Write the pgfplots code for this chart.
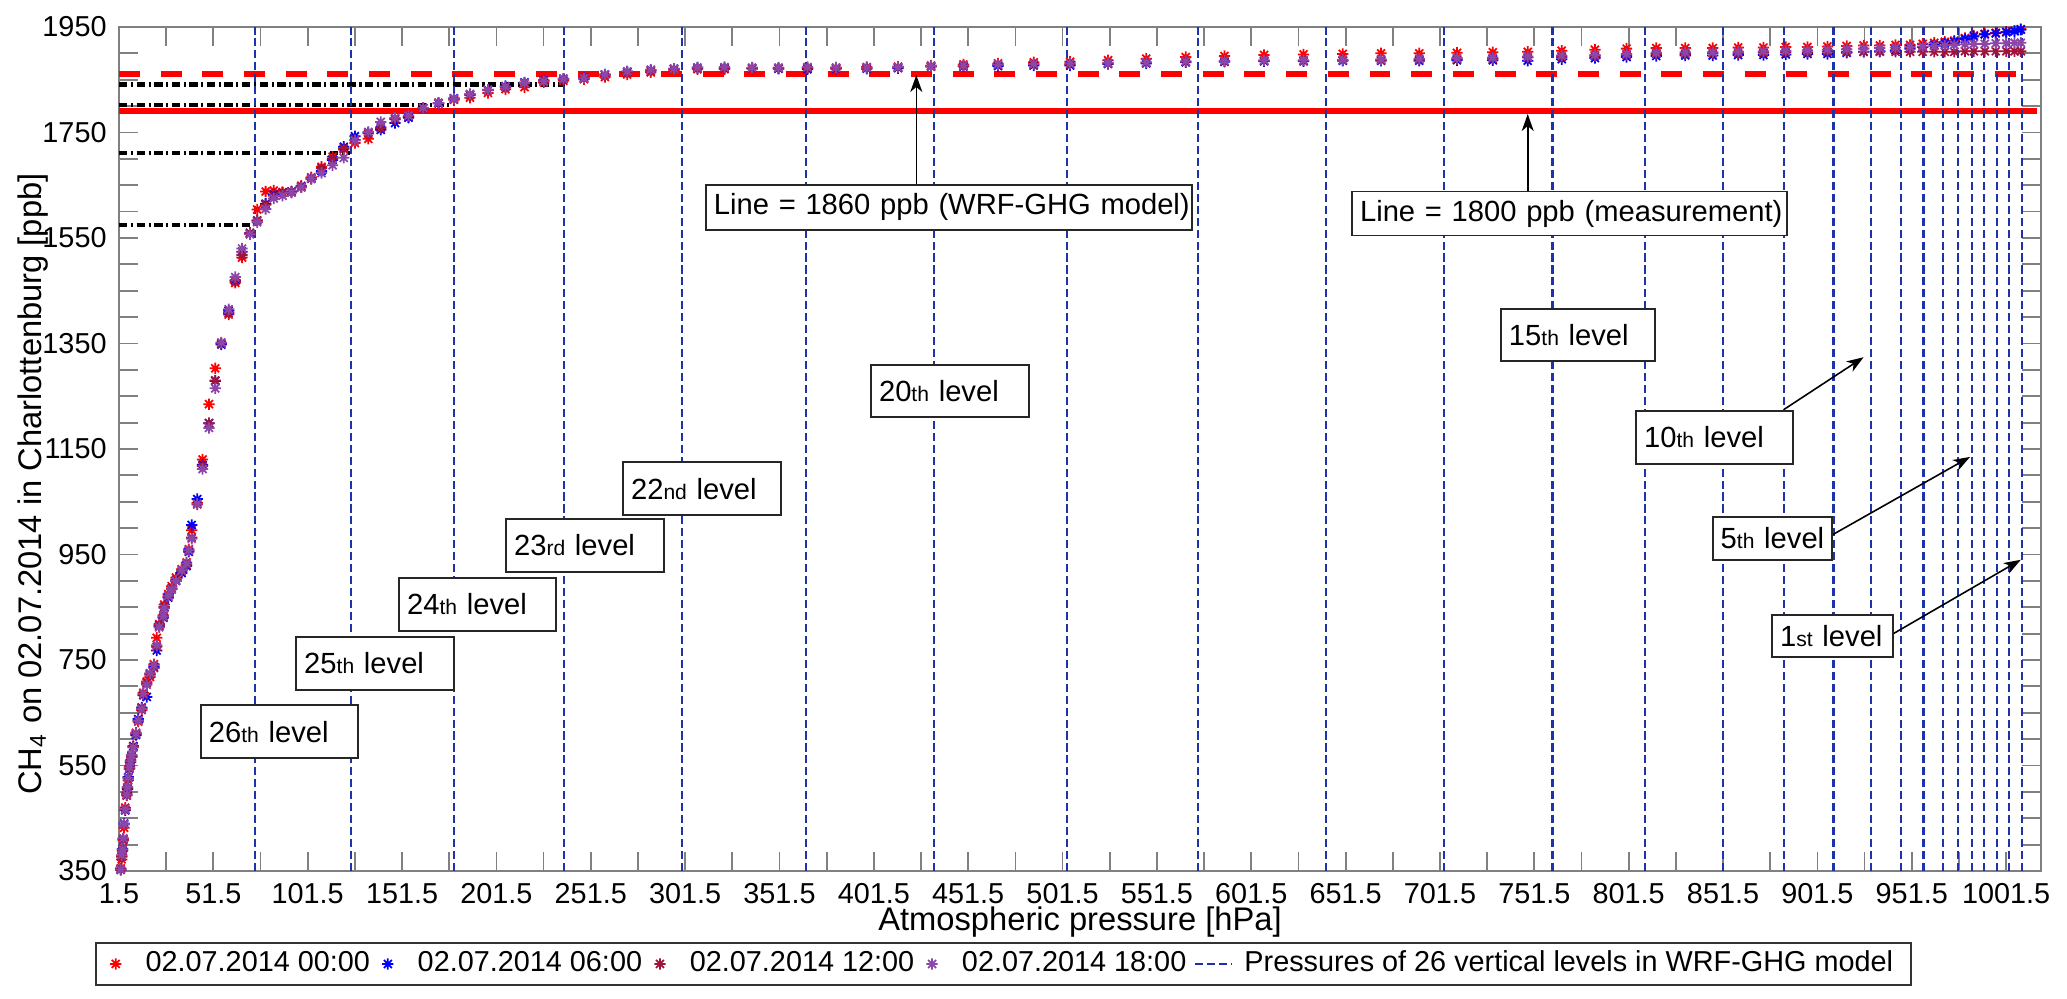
\documentclass[border=0pt]{standalone}
\usepackage{pgfplots}
\pgfplotsset{compat=1.18}
\usepackage{fontspec}
\setmainfont{Liberation Sans}
\usetikzlibrary{arrows.meta}

\definecolor{cRed}{RGB}{255,0,0}
\definecolor{cBlue}{RGB}{0,0,255}
\definecolor{cMaroon}{RGB}{160,20,60}
\definecolor{cPurple}{RGB}{140,70,170}
\definecolor{cLevel}{RGB}{30,50,170}
\definecolor{cAxis}{RGB}{128,128,128}

\newcommand\tickfont{\fontsize{8.2pt}{9.8pt}\selectfont}
\newcommand\labfont{\fontsize{9.3pt}{11pt}\selectfont}
\newcommand\legfont{\fontsize{8.2pt}{9.8pt}\selectfont}
\newcommand\boxfont{\fontsize{8.3pt}{10pt}\selectfont}
\newcommand\thf{\fontsize{6pt}{7pt}\selectfont}

\pgfdeclareplotmark{mstar}{%
  \pgfpathmoveto{\pgfqpoint{0pt}{\pgfplotmarksize}}\pgfpathlineto{\pgfqpoint{0pt}{-\pgfplotmarksize}}%
  \pgfpathmoveto{\pgfqpoint{\pgfplotmarksize}{0pt}}\pgfpathlineto{\pgfqpoint{-\pgfplotmarksize}{0pt}}%
  \pgfpathmoveto{\pgfqpoint{.7071\pgfplotmarksize}{.7071\pgfplotmarksize}}\pgfpathlineto{\pgfqpoint{-.7071\pgfplotmarksize}{-.7071\pgfplotmarksize}}%
  \pgfpathmoveto{\pgfqpoint{.7071\pgfplotmarksize}{-.7071\pgfplotmarksize}}\pgfpathlineto{\pgfqpoint{-.7071\pgfplotmarksize}{.7071\pgfplotmarksize}}%
  \pgfusepathqstroke}

\tikzset{
  lbox/.style={draw=black!85, line width=0.55pt, fill=white, anchor=north west,
    inner xsep=0.08cm, inner ysep=0pt, align=left, font=\boxfont},
  arr/.style={-{Stealth[length=0.17cm,width=0.12cm,inset=0.05cm]}, line width=0.45pt, black},
}
\pgfplotsset{
  levelline/.style={cLevel, line width=0.6pt, dash pattern=on 2.3pt off 1.1pt},
  mk/.style={only marks, mark=mstar, mark size=1.6pt, mark options={line width=0.5pt}},
  dashdot/.style={forget plot, black, line width=1.15pt, dash pattern=on 2.4pt off 1.0pt on 0.6pt off 1.0pt},
}

\begin{document}
\begin{tikzpicture}
\begin{axis}[
  scale only axis, width=19.22cm, height=8.44cm,
  xmin=1.5, xmax=1020, ymin=350, ymax=1950,
  clip=false,
  xtick={1.5,51.5,...,1001.5},
  xticklabels={1.5,51.5,101.5,151.5,201.5,251.5,301.5,351.5,401.5,451.5,501.5,551.5,601.5,651.5,701.5,751.5,801.5,851.5,901.5,951.5,1001.5},
  minor xtick={26.5,76.5,...,976.5},
  ytick={350,550,...,1950},
  yticklabels={350,550,750,950,1150,1350,1550,1750,1950},
  minor y tick num=3,
  tick align=inside,
  major tick length=0.19cm, minor tick length=0.19cm,
  tick style={cAxis, line width=0.5pt},
  axis line style={cAxis, line width=0.6pt},
  ticklabel style={font=\tickfont, black},
  /pgf/number format/assume math mode=true,
  xlabel={Atmospheric pressure [hPa]},
  ylabel={CH\textsubscript{4} on 02.07.2014 in Charlottenburg [ppb]},
  label style={font=\labfont},
  xlabel style={at={(rel axis cs:0.5,-0.0605)}, anchor=center},
  ylabel style={at={(rel axis cs:-0.0449,0.4585)}, anchor=center},
  legend columns=-1,
  legend cell align=left,
  legend style={at={(rel axis cs:-0.0125,-0.0841)}, anchor=north west,
    draw=black!80, line width=0.5pt, fill=white, font=\legfont,
    inner xsep=0.1cm, inner ysep=0.02cm,
    nodes={inner xsep=0.08cm, inner ysep=0.06cm},
    /tikz/every even column/.append style={column sep=0cm}},
  legend image code/.code={\draw[#1] plot coordinates {(0.09cm,0cm)};\path (0cm,0cm) (0.3cm,0cm);},
]

% reference lines
\addplot[forget plot, cRed, line width=1.75pt] coordinates {(1.5,1790) (1018,1790)};
\addplot[forget plot, cRed, line width=1.7pt, dash pattern=on 5.97pt off 5.89pt] coordinates {(1.5,1860) (1010,1860)};
\addplot[dashdot] coordinates {(1.5,1841) (237.8,1841)};
\addplot[dashdot] coordinates {(1.5,1803) (176.9,1803)};
\addplot[dashdot] coordinates {(1.5,1712) (124,1712)};
\addplot[dashdot] coordinates {(1.5,1575) (73,1575)};

% 02.07.2014 00:00
\addplot[mk, color=cRed] table {
x y
2.4 355
2.9 372
3.4 388
3.8 408
4.2 432
4.8 470
5.6 497
6.0 507
6.4 522
7.0 548
7.6 560
8.2 566
9.1 587
10.5 612
11.7 633
13.5 655
14.4 688
16.2 709
17.9 718
20.0 742
21.5 792
22.8 818
25.0 835
25.5 855
27.6 875
29.4 890
31.7 906
34.7 922
37.3 935
38.5 960
40.0 996
43.0 1048
45.8 1130
49.2 1235
52.5 1303
55.7 1350
59.6 1405
63.1 1465
66.7 1513
70.9 1558
74.7 1604
79.2 1638
83.5 1640
88.2 1637
92.9 1638
98.1 1649
103.4 1665
108.8 1685
114.7 1704
120.6 1718
126.5 1730
133.6 1738
140.2 1760
147.8 1776
154.9 1779
162.7 1796
170.8 1806
179.0 1812
187.5 1816
197.0 1825
206.3 1832
216.4 1836
226.6 1845
237.0 1848
247.9 1851
259.0 1855
270.8 1860
283.3 1864
295.6 1868
308.0 1870
322.4 1870
337.0 1871
351.0 1872
366.3 1872
381.5 1873
397.7 1874
414.3 1875
431.8 1877
449.0 1879
467.3 1881
486.2 1883
505.5 1884
525.6 1887
545.8 1890
566.8 1893
587.3 1895
608.3 1897
629.2 1898
650.0 1899
670.3 1900
690.5 1900
710.5 1901
729.5 1902
748.0 1903
766.0 1905
783.6 1907
800.4 1909
816.1 1910
831.5 1910
846.0 1910
859.5 1911
872.9 1911
884.7 1912
896.2 1912
906.8 1913
917.0 1914
926.0 1915
934.6 1915
942.9 1916
950.6 1916
957.3 1918
963.4 1920
969.0 1922
974.0 1924
979.7 1929
984.4 1934
990.2 1937
996.0 1939
1001.6 1941
1006.0 1943
1009.3 1946
};
% 02.07.2014 06:00
\addplot[mk, color=cBlue] table {
x y
2.4 353
2.9 378
3.4 392
3.8 411
4.2 440
4.8 465
5.6 494
6.0 505
6.4 528
7.0 544
7.6 556
8.2 568
9.1 586
10.5 608
11.7 638
13.5 660
14.4 683
16.2 680
17.9 724
20.0 737
21.5 768
22.8 814
25.0 830
25.5 850
27.6 868
29.4 884
31.7 900
34.7 915
37.3 928
38.5 955
40.0 1006
43.0 1055
45.8 1120
49.2 1199
52.5 1279
55.7 1348
59.6 1412
63.1 1470
66.7 1524
70.9 1559
74.7 1583
79.2 1615
83.5 1632
88.2 1636
92.9 1638
98.1 1647
103.4 1663
108.8 1677
114.7 1698
120.6 1723
126.5 1743
133.6 1750
140.2 1755
147.8 1768
154.9 1778
162.7 1796
170.8 1805
179.0 1815
187.5 1822
197.0 1831
206.3 1838
216.4 1845
226.6 1849
237.0 1852
247.9 1854
259.0 1860
270.8 1865
283.3 1868
295.6 1871
308.0 1873
322.4 1872
337.0 1872
351.0 1871
366.3 1870
381.5 1871
397.7 1871
414.3 1872
431.8 1875
449.0 1875
467.3 1876
486.2 1877
505.5 1877
525.6 1880
545.8 1881
566.8 1883
587.3 1884
608.3 1885
629.2 1885
650.0 1886
670.3 1886
690.5 1886
710.5 1887
729.5 1887
748.0 1886
766.0 1889
783.6 1891
800.4 1893
816.1 1895
831.5 1896
846.0 1896
859.5 1897
872.9 1897
884.7 1898
896.2 1899
906.8 1899
917.0 1901
926.0 1903
934.6 1904
942.9 1906
950.6 1909
957.3 1912
963.4 1916
969.0 1919
974.0 1922
979.7 1927
984.4 1932
990.2 1936
996.0 1938
1001.6 1940
1006.0 1942
1009.3 1945
};
% 02.07.2014 12:00
\addplot[mk, color=cMaroon] table {
x y
2.4 352
2.9 377
3.4 390
3.8 410
4.2 438
4.8 466
5.6 493
6.0 508
6.4 526
7.0 545
7.6 557
8.2 567
9.1 585
10.5 610
11.7 636
13.5 659
14.4 684
16.2 706
17.9 722
20.0 735
21.5 775
22.8 816
25.0 831
25.5 851
27.6 870
29.4 886
31.7 902
34.7 918
37.3 930
38.5 957
40.0 982
43.0 1045
45.8 1118
49.2 1199
52.5 1280
55.7 1350
59.6 1408
63.1 1468
66.7 1518
70.9 1560
74.7 1583
79.2 1613
83.5 1630
88.2 1636
92.9 1637
98.1 1646
103.4 1662
108.8 1682
114.7 1700
120.6 1720
126.5 1736
133.6 1748
140.2 1758
147.8 1775
154.9 1781
162.7 1796
170.8 1806
179.0 1813
187.5 1821
197.0 1830
206.3 1836
216.4 1843
226.6 1848
237.0 1851
247.9 1853
259.0 1859
270.8 1864
283.3 1867
295.6 1870
308.0 1872
322.4 1872
337.0 1872
351.0 1872
366.3 1872
381.5 1872
397.7 1872
414.3 1873
431.8 1875
449.0 1876
467.3 1878
486.2 1879
505.5 1879
525.6 1881
545.8 1882
566.8 1884
587.3 1885
608.3 1886
629.2 1886
650.0 1887
670.3 1887
690.5 1888
710.5 1889
729.5 1890
748.0 1892
766.0 1893
783.6 1895
800.4 1897
816.1 1899
831.5 1899
846.0 1900
859.5 1900
872.9 1901
884.7 1902
896.2 1902
906.8 1903
917.0 1903
926.0 1903
934.6 1903
942.9 1903
950.6 1903
957.3 1903
963.4 1903
969.0 1903
974.0 1903
979.7 1904
984.4 1904
990.2 1904
996.0 1904
1001.6 1904
1006.0 1904
1009.3 1904
};
% 02.07.2014 18:00
\addplot[mk, color=cPurple] table {
x y
2.4 353
2.9 380
3.4 391
3.8 412
4.2 439
4.8 467
5.6 495
6.0 509
6.4 527
7.0 546
7.6 558
8.2 570
9.1 584
10.5 611
11.7 635
13.5 657
14.4 686
16.2 703
17.9 725
20.0 740
21.5 778
22.8 812
25.0 833
25.5 848
27.6 872
29.4 884
31.7 900
34.7 920
37.3 933
38.5 958
40.0 980
43.0 1046
45.8 1112
49.2 1190
52.5 1265
55.7 1352
59.6 1415
63.1 1476
66.7 1530
70.9 1557
74.7 1580
79.2 1605
83.5 1625
88.2 1630
92.9 1636
98.1 1646
103.4 1663
108.8 1673
114.7 1688
120.6 1702
126.5 1735
133.6 1751
140.2 1770
147.8 1778
154.9 1782
162.7 1797
170.8 1806
179.0 1814
187.5 1823
197.0 1831
206.3 1837
216.4 1844
226.6 1847
237.0 1852
247.9 1853
259.0 1860
270.8 1866
283.3 1869
295.6 1871
308.0 1873
322.4 1874
337.0 1873
351.0 1873
366.3 1874
381.5 1873
397.7 1873
414.3 1874
431.8 1876
449.0 1877
467.3 1879
486.2 1880
505.5 1881
525.6 1882
545.8 1883
566.8 1885
587.3 1886
608.3 1887
629.2 1887
650.0 1888
670.3 1889
690.5 1890
710.5 1891
729.5 1892
748.0 1894
766.0 1896
783.6 1897
800.4 1899
816.1 1901
831.5 1902
846.0 1902
859.5 1903
872.9 1904
884.7 1905
896.2 1906
906.8 1907
917.0 1908
926.0 1909
934.6 1910
942.9 1911
950.6 1912
957.3 1913
963.4 1914
969.0 1915
974.0 1916
979.7 1917
984.4 1918
990.2 1918
996.0 1919
1001.6 1919
1006.0 1920
1009.3 1920
};
\addlegendimage{levelline, legend image code/.code={\draw[cLevel, line width=0.6pt, dash pattern=on 2.3pt off 1.1pt] (0cm,0cm) -- (0.36cm,0cm); \path (0.4cm,0cm);}}

% pressures of the 26 model levels
\pgfplotsinvokeforeach{73.6,124.3,179.0,237.5,299.7,365.6,433.6,503.7,573.1,641.0,703.8,761.1,810.2,851.4,884.0,910.0,930.0,945.9,957.7,968.0,976.2,983.3,990.0,996.6,1003.2,1009.8}{
  \addplot[levelline, forget plot] coordinates {(#1,350) (#1,1950)};
}

\legend{02.07.2014 00:00, 02.07.2014 06:00, 02.07.2014 12:00, 02.07.2014 18:00, Pressures of 26 vertical levels in WRF-GHG model}

% annotations
\draw[arr] (axis cs:424,1652.4) -- (axis cs:424,1859);
\draw[arr] (axis cs:748,1640) -- (axis cs:748,1785);
\draw[arr] (axis cs:883.8,1225) -- (axis cs:926,1324);
\draw[arr] (axis cs:909.3,987) -- (axis cs:982.4,1135);
\draw[arr] (axis cs:941.3,799) -- (axis cs:1009.3,940);

\node[lbox, text width=4.70cm, minimum height=0.45cm] at (axis cs:312,1652.4) {\mbox{Line = 1860 ppb (WRF-GHG model)}};
\node[lbox, text width=4.19cm, minimum height=0.44cm] at (axis cs:654.4,1640) {\mbox{Line = 1800 ppb (measurement)}};
\node[lbox, text width=1.41cm, minimum height=0.53cm] at (axis cs:44.4,666) {\mbox{26{\thf th} level}};
\node[lbox, text width=1.42cm, minimum height=0.53cm] at (axis cs:94.9,795.5) {\mbox{25{\thf th} level}};
\node[lbox, text width=1.41cm, minimum height=0.53cm] at (axis cs:149.4,907.3) {\mbox{24{\thf th} level}};
\node[lbox, text width=1.42cm, minimum height=0.53cm] at (axis cs:206.1,1019) {\mbox{23{\thf rd} level}};
\node[lbox, text width=1.42cm, minimum height=0.53cm] at (axis cs:268.1,1127) {\mbox{22{\thf nd} level}};
\node[lbox, text width=1.42cm, minimum height=0.52cm] at (axis cs:399.5,1311) {\mbox{20{\thf th} level}};
\node[lbox, text width=1.38cm, minimum height=0.52cm] at (axis cs:733.3,1417.3) {\mbox{15{\thf th} level}};
\node[lbox, text width=1.41cm, minimum height=0.53cm] at (axis cs:804.9,1224) {\mbox{10{\thf th} level}};
\node[lbox, text width=1.03cm, minimum height=0.43cm] at (axis cs:845.5,1023) {\mbox{5{\thf th} level}};
\node[lbox, text width=1.05cm, minimum height=0.42cm] at (axis cs:877,836.6) {\mbox{1{\thf st} level}};
\end{axis}
\path ([shift={(-1.19cm,-1.28cm)}]current axis.south west) rectangle ([shift={(0.26cm,0.27cm)}]current axis.north east);
\end{tikzpicture}
\end{document}
